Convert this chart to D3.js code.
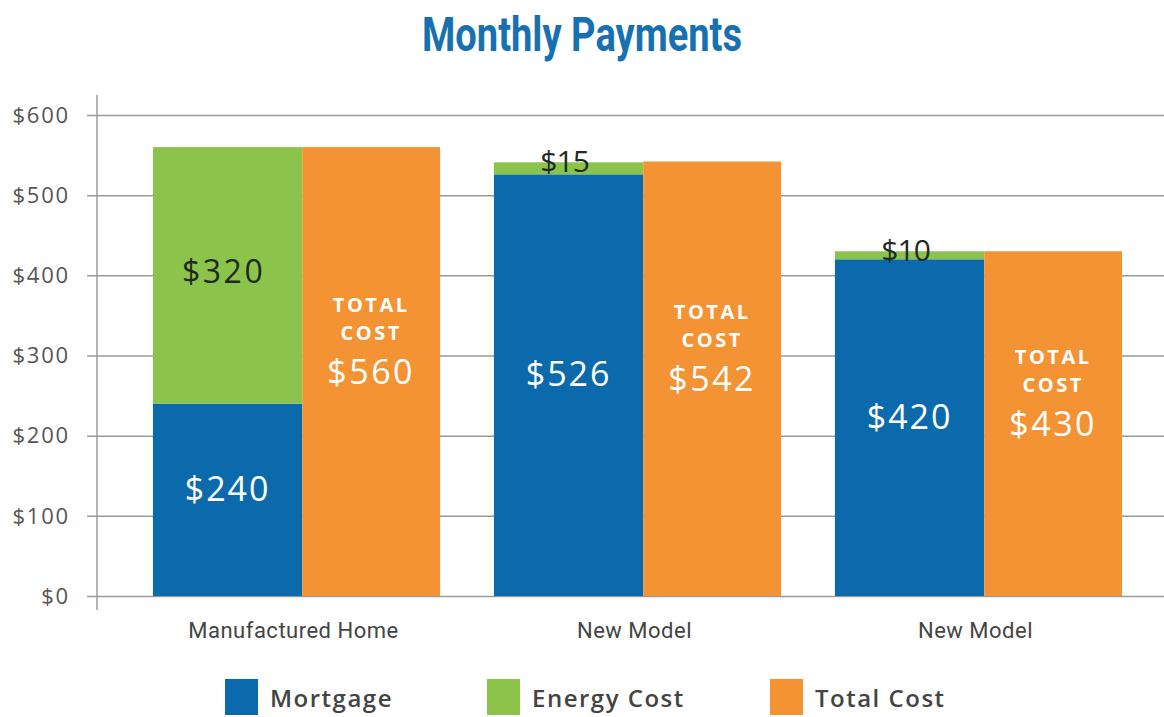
<!DOCTYPE html>
<html>
<head>
<meta charset="utf-8">
<script src="https://cdn.jsdelivr.net/npm/d3@7"></script>
<style>
  html, body { margin: 0; padding: 0; background: #ffffff; }
  svg { display: block; }
</style>
</head>
<body>
<svg id="chart" width="1164" height="717"></svg>
<script>
// Monthly payment comparison: mortgage + energy stacked next to total cost
const categories = ["Manufactured Home", "New Model", "New Model"];
const mortgage = [240, 526, 420];
const energyCost = [320, 15, 10];
const totalCost = [560, 542, 430];
const yTicks = [0, 100, 200, 300, 400, 500, 600];
const legendLabels = ["Mortgage", "Energy Cost", "Total Cost"];

const colors = { mortgage: "#0b6aac", energy: "#8cc44b", total: "#f39333" };
const narrow = "Roboto, 'Liberation Sans', sans-serif";
const round = "'Open Sans', 'Lato', sans-serif";

const svg = d3.select("#chart");

const y = d3.scaleLinear().domain([0, 600]).range([596, 115]);
const x0 = d3.scaleBand().domain(d3.range(categories.length))
  .range([126, 1149]).paddingInner(0.158).paddingOuter(0.079);
// the stacked bar is a little wider than the total bar
const stackShare = 0.52;
const sx = 0, sw = x0.bandwidth() * stackShare;
const tx0 = sw, tw = x0.bandwidth() - sw;

// title, set condensed
svg.append("text")
  .attr("x", 422).attr("y", 51)
  .attr("textLength", 320).attr("lengthAdjust", "spacingAndGlyphs")
  .attr("font-family", narrow).attr("font-weight", 700)
  .attr("font-size", 48).attr("fill", "#1771b1")
  .text("Monthly Payments");

// gridlines and tick labels
const yAxis = d3.axisLeft(y).tickValues(yTicks)
  .tickSize(-(1164 - 87)).tickPadding(17)
  .tickFormat(d => "$" + d);
const gAxis = svg.append("g").attr("transform", "translate(87,0)").call(yAxis);
gAxis.select(".domain").remove();
gAxis.selectAll(".tick line").attr("stroke", "#9a9a9a").attr("stroke-width", 1.5);
gAxis.selectAll(".tick text")
  .attr("font-family", round).attr("font-size", 22).attr("fill", "#555")
  .attr("letter-spacing", 1.8).attr("dy", "0.33em");

// vertical axis line
svg.append("line")
  .attr("x1", 97).attr("x2", 97).attr("y1", 95).attr("y2", 610)
  .attr("stroke", "#9a9a9a").attr("stroke-width", 1.5);

const groups = svg.append("g").selectAll("g")
  .data(categories.map((c, i) => ({ c, i, m: mortgage[i], e: energyCost[i], t: totalCost[i] })))
  .join("g")
  .attr("transform", d => `translate(${x0(d.i)},0)`);

// mortgage segment
groups.append("rect")
  .attr("x", sx).attr("width", sw)
  .attr("y", d => y(d.m)).attr("height", d => y(0) - y(d.m))
  .attr("fill", colors.mortgage);

// energy segment stacked on mortgage
groups.append("rect")
  .attr("x", sx).attr("width", sw)
  .attr("y", d => y(d.m + d.e)).attr("height", d => y(d.m) - y(d.m + d.e))
  .attr("fill", colors.energy);

// total cost bar
groups.append("rect")
  .attr("x", tx0).attr("width", tw)
  .attr("y", d => y(d.t)).attr("height", d => y(0) - y(d.t))
  .attr("fill", colors.total);

// mortgage value labels
groups.append("text")
  .attr("x", sx + sw / 2)
  .attr("y", d => (y(0) + y(d.m)) / 2 - 11)
  .attr("dy", "0.36em").attr("text-anchor", "middle")
  .attr("font-family", round).attr("font-weight", 500).attr("font-size", 34)
  .attr("fill", "#fff").attr("letter-spacing", 2)
  .text(d => "$" + d.m);

// energy value labels: inside when the segment is tall, on its top otherwise
groups.append("text")
  .attr("x", sx + sw / 2 - 4)
  .attr("y", d => {
    const h = y(d.m) - y(d.m + d.e);
    return h > 60 ? (y(d.m) + y(d.m + d.e)) / 2 - 4 : y(d.m + d.e) - 1;
  })
  .attr("dy", "0.36em").attr("text-anchor", "middle")
  .attr("font-family", round).attr("font-weight", 500)
  .attr("font-size", d => d.e > 50 ? 32 : 30)
  .attr("fill", "#1f2a24").attr("letter-spacing", d => d.e > 50 ? 2.5 : -1)
  .text(d => "$" + d.e);

// total cost labels
const tl = groups.append("g")
  .attr("transform", d => `translate(${tx0 + tw / 2},${(y(0) + y(d.t)) / 2})`)
  .attr("fill", "#fff").attr("text-anchor", "middle");
tl.append("text").attr("y", -67).attr("dy", "0.36em")
  .attr("font-family", round).attr("font-weight", 700).attr("font-size", 20)
  .attr("letter-spacing", 2.5).text("TOTAL");
tl.append("text").attr("y", -39).attr("dy", "0.36em")
  .attr("font-family", round).attr("font-weight", 700).attr("font-size", 20)
  .attr("letter-spacing", 2.5).text("COST");
tl.append("text").attr("y", 0).attr("dy", "0.36em")
  .attr("font-family", round).attr("font-weight", 500).attr("font-size", 34)
  .attr("letter-spacing", 2.5).text(d => "$" + d.t);

// category labels
groups.append("text")
  .attr("x", x0.bandwidth() / 2 - 3).attr("y", 630)
  .attr("dy", "0.36em").attr("text-anchor", "middle")
  .attr("font-family", narrow).attr("font-size", 22).attr("fill", "#444")
  .attr("letter-spacing", 0.5)
  .text(d => d.c);

// legend
const legendColors = [colors.mortgage, colors.energy, colors.total];
const legendX = [225, 487, 770];
const lg = svg.append("g").selectAll("g")
  .data(legendLabels.map((l, i) => ({ l, c: legendColors[i], x: legendX[i] })))
  .join("g").attr("transform", d => `translate(${d.x},679)`);
lg.append("rect").attr("width", 33).attr("height", 36).attr("fill", d => d.c);
lg.append("text").attr("x", 45).attr("y", 19).attr("dy", "0.36em")
  .attr("font-family", round).attr("font-weight", 600).attr("font-size", 24)
  .attr("fill", "#444").attr("letter-spacing", 1.5)
  .text(d => d.l);
</script>
</body>
</html>
